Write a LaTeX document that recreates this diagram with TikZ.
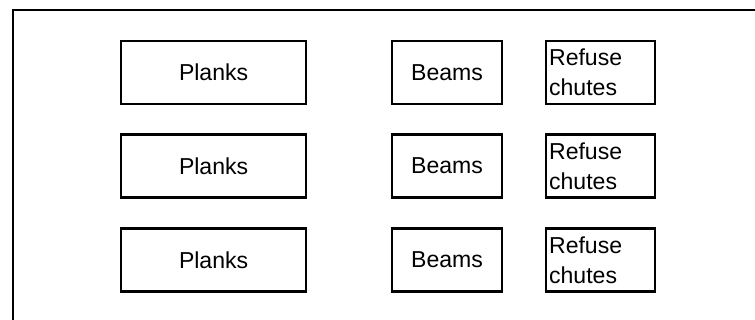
\documentclass[tikz,border=0pt]{standalone}
\usepackage{fontspec}
\setmainfont{Liberation Sans}
\usetikzlibrary{positioning}
\tikzset{
  framestroke/.style={line width=1.9pt},
  plankbox/.style={draw, line width=1.5pt, minimum width=4.61cm, minimum height=1.575cm, align=center},
  beambox/.style={draw, line width=1.5pt, minimum width=2.75cm, minimum height=1.575cm, align=center},
  chutebox/.style={draw, line width=1.5pt, minimum width=2.725cm, minimum height=1.575cm, inner xsep=0.08cm, text width=2.565cm, align=left}
}

\begin{document}
\begin{tikzpicture}[every node/.style={font=\fontsize{16.4}{21.5}\selectfont}]
  \useasboundingbox (0,0) rectangle (18.875,8);
  % outer frame, open at right and bottom
  \draw[framestroke] (0.325,0) -- (0.325,7.75) -- (18.875,7.75);
  \node[plankbox] (p1) at (5.34,6.1875) {Planks};
  \node[beambox]  (b1) at (11.175,6.1875) {Beams};
  \node[chutebox] (c1) at (15.01,6.1875) {Refuse\\chutes};
  \node[plankbox] (p2) at (5.34,3.85) {Planks};
  \node[beambox]  (b2) at (11.175,3.85) {Beams};
  \node[chutebox] (c2) at (15.01,3.85) {Refuse\\chutes};
  \node[plankbox] (p3) at (5.34,1.5) {Planks};
  \node[beambox]  (b3) at (11.175,1.5) {Beams};
  \node[chutebox] (c3) at (15.01,1.5) {Refuse\\chutes};
\end{tikzpicture}
\end{document}
